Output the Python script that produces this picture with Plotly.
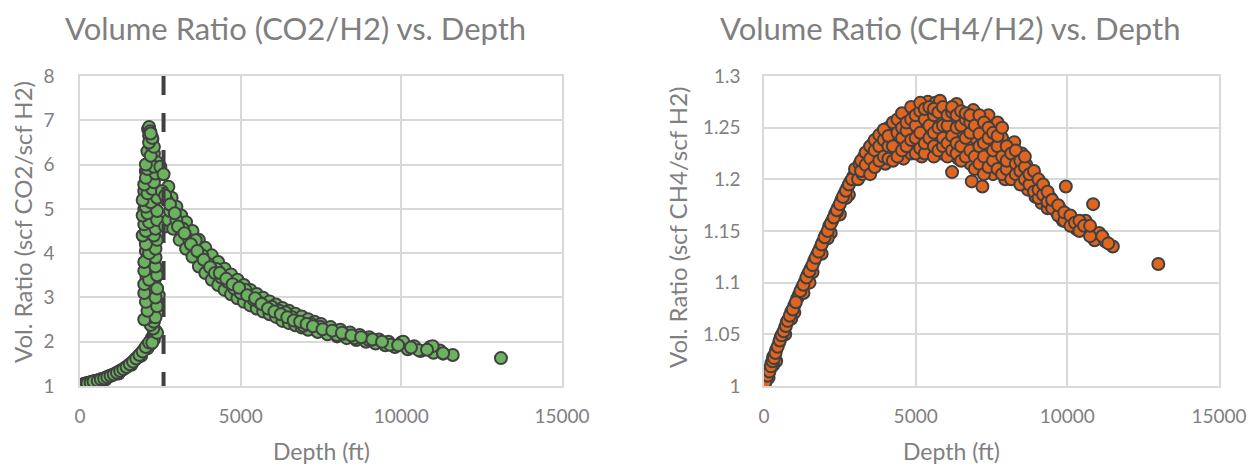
import plotly.graph_objects as go

# ---------------- data ----------------
co2_depth = [
    20, 60, 100, 150, 200, 250, 300, 350, 400, 450, 500, 600, 700, 800, 900, 1000,
    1100, 1200, 1300, 1400, 1500, 1600, 1700, 1800, 1900, 2000, 2100, 2200, 2250, 2300,
    500, 800, 1200, 1600, 1900, 2100, 2200,
    40, 80, 130, 180, 230, 330, 420, 550, 650, 750, 850, 950, 1050, 1150, 1250, 1350,
    1450, 1550, 1650, 1750, 1850, 1950, 2050, 2150, 2350, 2300, 2250, 2400,
    2280, 2200, 2300, 2150, 2250, 2330, 2180, 2260, 2450, 2100, 2200, 2320, 2070, 2250,
    2150, 2300, 2100, 2200, 2050, 2250, 2130, 2000, 2200, 2100, 2300, 2050, 2200, 2000,
    2150, 2300, 2050, 2250, 2000, 2150, 2350, 2100, 2250, 2050, 2200, 2150, 2250, 2100,
    2200, 2250, 2150, 2120, 2150, 2180, 2300, 2400,
    2000, 2350, 2100, 2400, 2050, 2350, 2000, 2400, 2000, 2150, 2400, 2000, 2350, 2000,
    2350, 2150, 2350, 2050, 2400, 1950, 2300, 2050, 2350, 2000, 2150, 2400, 1950, 2100,
    2400, 2050, 2200, 1950, 2400, 2100, 2250, 2000, 2300, 2050, 2350, 2100, 2300, 2050,
    2200, 2300, 2150, 2250, 2200,
    2500, 2600, 2750, 2850, 3000, 3150, 3300, 3500, 3700, 3900, 4100, 4300, 4500, 4700,
    4900, 5100, 5300, 5500, 5700, 5900, 6100, 6300, 6500, 6700, 6900, 7100, 7300, 7500,
    7800, 8100, 8400, 8700, 9000, 9300, 9600, 10000, 10400, 10900, 11200,
    2650, 2750, 2900, 3100, 3300, 3500, 3700, 3900, 4100, 4300, 4500, 4700, 4900, 5100,
    5300, 5500, 5700, 5900, 6100, 6300, 6500, 6700, 6900, 7100, 7400, 7700, 8000, 8300,
    8600, 8900, 9200, 9500, 9800, 10200, 10600, 11000, 11300, 11600,
    2700, 2800, 3000, 3200, 3400, 3600, 3800, 4000, 4250, 4400, 4600, 4800, 5000, 5150,
    5400, 5600, 5965, 6200, 6400, 6600, 6950, 7200, 7470, 7990, 8200, 8550, 9000, 9650,
    10060, 10540, 10975, 11300, 13100,
    2550, 2650, 2800, 2950, 3050, 3250, 3450, 3650, 3850, 4050, 4200, 4350, 4550, 4750,
    4950, 5200, 5450, 5650, 5850, 6050, 6250, 6450, 6650, 6850, 7050, 7250, 7550, 7850,
    8150, 8450, 8750, 9100, 9400, 9900, 10300, 10800,
]
co2_ratio = [
    1.02, 1.03, 1.04, 1.05, 1.06, 1.07, 1.08, 1.09, 1.10, 1.11, 1.12, 1.14, 1.16, 1.19, 1.22, 1.25,
    1.28, 1.32, 1.36, 1.41, 1.46, 1.52, 1.59, 1.66, 1.74, 1.83, 1.93, 2.03, 2.10, 2.18,
    1.09, 1.15, 1.28, 1.48, 1.68, 1.85, 1.95,
    1.02, 1.03, 1.04, 1.05, 1.06, 1.08, 1.10, 1.12, 1.15, 1.17, 1.20, 1.23, 1.26, 1.30, 1.34, 1.38,
    1.43, 1.49, 1.55, 1.62, 1.70, 1.78, 1.88, 1.98, 2.25, 2.05, 1.98, 2.20,
    2.30, 2.38, 2.45, 2.55, 2.65, 2.75, 2.85, 2.95, 3.05, 3.20, 3.30, 3.38, 3.45, 3.55,
    3.65, 3.75, 3.85, 3.95, 4.05, 4.15, 4.25, 4.35, 4.45, 4.55, 4.65, 4.75, 4.85, 5.00,
    5.10, 5.05, 5.25, 5.30, 5.40, 5.50, 5.45, 5.65, 5.75, 5.85, 5.95, 6.05, 6.15, 6.30,
    6.45, 6.55, 6.65, 6.80, 6.85, 6.75, 6.25, 6.05,
    2.50, 2.55, 2.70, 2.80, 2.90, 3.00, 3.10, 3.20, 3.30, 3.40, 3.50, 3.60, 3.70, 3.80,
    3.90, 4.00, 4.10, 4.20, 4.30, 4.40, 4.40, 4.50, 4.55, 4.65, 4.70, 4.75, 4.85, 4.90,
    4.95, 5.05, 5.15, 5.20, 5.25, 5.35, 5.45, 5.55, 5.60, 5.70, 5.80, 5.90, 5.95, 6.00,
    6.20, 6.40, 6.50, 6.60, 6.70,
    5.95, 5.78, 5.50, 5.25, 5.05, 4.85, 4.70, 4.50, 4.30, 4.12, 3.95, 3.80, 3.65, 3.52,
    3.40, 3.28, 3.17, 3.08, 2.99, 2.91, 2.84, 2.76, 2.70, 2.63, 2.57, 2.51, 2.45, 2.40,
    2.33, 2.27, 2.21, 2.15, 2.10, 2.05, 2.00, 1.98, 1.90, 1.88, 1.80,
    4.60, 4.75, 4.55, 4.30, 4.10, 3.92, 3.70, 3.55, 3.40, 3.28, 3.17, 3.07, 2.98, 2.90,
    2.82, 2.75, 2.68, 2.62, 2.56, 2.47, 2.42, 2.37, 2.32, 2.27, 2.22, 2.17, 2.12, 2.08,
    2.04, 2.00, 1.96, 1.92, 1.88, 1.83, 1.79, 1.75, 1.73, 1.70,
    5.20, 4.95, 4.75, 4.55, 4.30, 4.29, 3.95, 3.75, 3.64, 3.45, 3.35, 3.20, 3.10, 3.17,
    2.95, 2.88, 2.79, 2.70, 2.66, 2.55, 2.36, 2.40, 2.34, 2.15, 2.18, 2.08, 2.04, 1.93,
    2.00, 1.81, 1.90, 1.74, 1.63,
    5.40, 5.30, 5.10, 4.90, 4.60, 4.45, 4.20, 4.05, 3.85, 3.68, 3.55, 3.55, 3.42, 3.30,
    3.22, 3.05, 2.98, 2.85, 2.75, 2.68, 2.62, 2.55, 2.48, 2.45, 2.40, 2.35, 2.28, 2.25,
    2.20, 2.14, 2.10, 2.05, 2.00, 1.92, 1.87, 1.82,
]

ch4_depth = [
    30, 60, 100, 150, 200, 250, 300, 350, 400, 500, 550, 600, 700, 750, 800, 900, 1000,
    1100, 1150, 1250, 1350, 1450, 1550, 1650, 1750, 1850, 1950, 2050, 2150, 2250, 2350,
    2450, 2550, 2650, 2750, 2850, 2950,
    150, 400, 700, 1000, 1300, 1600, 1900, 2200, 2500, 2800, 300, 900, 1500, 2100, 2400, 2700,
    50, 120, 180, 230, 280, 330, 380, 450, 520, 580, 650, 720, 780, 850, 950, 1050,
    1200, 1300, 1400, 1500, 1600, 1700, 1800, 1900, 2000, 2100, 2200, 2300, 2400, 2500,
    2600, 2700, 2800, 2900,
    3000, 3100, 3150, 3250, 3300, 3400, 3450, 3550, 3600, 3700, 3750, 3850, 3900, 4000,
    4000, 4100, 4200, 4250, 4300, 4400, 4450, 4500, 4600, 4650, 4700, 4800, 4850, 4900,
    4950, 5050, 5050, 5150, 5200, 5250, 5300, 5400, 5450, 5500, 5550, 5650, 5700, 5800,
    5850, 5900, 6000, 6050, 6150, 6200, 6250, 6350, 6400, 6450, 6550, 6600, 6700, 6800,
    6850, 6900, 6950, 7050, 7100, 7200, 7250, 7300, 7400, 7450, 7550, 7600, 7700, 7750,
    7850, 7950, 8050, 8150, 8250, 8300, 8400, 8500, 8550, 8650, 8700, 8800, 8900, 8950,
    9050, 9150, 9250, 9350, 9450, 9550, 9650, 9750, 9850, 9950, 10000, 10150, 10300,
    10450, 10600, 10700, 10850, 10900, 11050, 11250, 11500, 13000,
    3200, 3200, 3350, 3350, 3500, 3500, 3500, 3650, 3650, 3650, 3800, 3800, 3800,
    3950, 3950, 3950, 4100, 4100, 4100, 4250, 4250, 4250, 4400, 4400, 4400,
    4550, 4550, 4550, 4550, 4700, 4700, 4700, 4850, 4850, 4850,
    5000, 5000, 5000, 5000, 5150, 5150, 5150, 5150, 5300, 5300, 5300, 5300,
    5450, 5450, 5450, 5600, 5600, 5600, 5600, 5600, 5750, 5750, 5750,
    5900, 5900, 5900, 5900, 6050, 6050, 6050, 6050, 6200, 6200, 6200, 6200,
    6350, 6350, 6350, 6350, 6500, 6500, 6500, 6500, 6650, 6650, 6650, 6650,
    6800, 6800, 6800, 6800, 6950, 6950, 6950, 7100, 7100, 7100, 7100,
    7250, 7250, 7250, 7250, 7400, 7400, 7400, 7550, 7550, 7550, 7700, 7700, 7700,
    7850, 7850, 7850, 8000, 8000, 8000, 8150, 8150, 8300, 8300, 8300,
    8450, 8450, 8450, 8600, 8600, 8600, 8750, 8750, 8900, 8900,
    9050, 9050, 9050, 9200, 9200, 9350, 9350, 9500, 9500, 9700, 9700,
    9900, 9900, 10100, 10100, 10250, 10400, 10400, 10550, 10750, 10750, 11150, 11350,
]
ch4_ratio = [
    1.003, 1.006, 1.009, 1.012, 1.017, 1.022, 1.028, 1.030, 1.035, 1.042, 1.047, 1.050, 1.057, 1.062, 1.064, 1.072, 1.078,
    1.085, 1.088, 1.095, 1.101, 1.108, 1.114, 1.121, 1.127, 1.133, 1.140, 1.147, 1.155, 1.160, 1.167,
    1.173, 1.180, 1.186, 1.192, 1.198, 1.203,
    1.008, 1.024, 1.050, 1.071, 1.090, 1.110, 1.128, 1.148, 1.166, 1.185, 1.020, 1.065, 1.100, 1.143, 1.168, 1.182,
    1.004, 1.010, 1.014, 1.019, 1.024, 1.027, 1.032, 1.038, 1.044, 1.049, 1.053, 1.058, 1.063, 1.068, 1.074, 1.081,
    1.092, 1.098, 1.105, 1.111, 1.117, 1.124, 1.130, 1.137, 1.144, 1.150, 1.157, 1.163, 1.170, 1.176,
    1.183, 1.189, 1.195, 1.200,
    1.210, 1.200, 1.215, 1.205, 1.222, 1.210, 1.228, 1.215, 1.235, 1.222, 1.240, 1.228, 1.245, 1.215,
    1.235, 1.250, 1.225, 1.243, 1.254, 1.232, 1.248, 1.259, 1.220, 1.240, 1.262, 1.252, 1.225, 1.266,
    1.243, 1.268, 1.232, 1.257, 1.222, 1.272, 1.245, 1.275, 1.230, 1.262, 1.250, 1.274, 1.238, 1.276,
    1.225, 1.258, 1.245, 1.268, 1.232, 1.207, 1.255, 1.273, 1.220, 1.244, 1.260, 1.230, 1.250, 1.215,
    1.198, 1.267, 1.240, 1.225, 1.258, 1.193, 1.245, 1.210, 1.262, 1.230, 1.205, 1.250, 1.255, 1.220,
    1.240, 1.200, 1.230, 1.212, 1.236, 1.222, 1.198, 1.225, 1.210, 1.214, 1.190, 1.205, 1.196, 1.183,
    1.195, 1.177, 1.188, 1.172, 1.182, 1.177, 1.168, 1.172, 1.160, 1.193, 1.162, 1.158, 1.152,
    1.156, 1.160, 1.150, 1.176, 1.141, 1.148, 1.140, 1.135, 1.118,
    1.208, 1.218, 1.214, 1.226, 1.205, 1.220, 1.232, 1.212, 1.228, 1.238, 1.218, 1.232, 1.243,
    1.222, 1.238, 1.248, 1.220, 1.232, 1.242, 1.218, 1.232, 1.255, 1.222, 1.245, 1.258,
    1.228, 1.240, 1.250, 1.264, 1.232, 1.247, 1.255, 1.238, 1.258, 1.270,
    1.225, 1.240, 1.252, 1.262, 1.230, 1.245, 1.266, 1.274, 1.225, 1.235, 1.258, 1.268,
    1.240, 1.252, 1.270, 1.222, 1.232, 1.245, 1.262, 1.268, 1.228, 1.250, 1.265,
    1.232, 1.240, 1.252, 1.270, 1.222, 1.235, 1.252, 1.262, 1.228, 1.242, 1.265, 1.270,
    1.225, 1.235, 1.250, 1.262, 1.218, 1.232, 1.252, 1.266, 1.222, 1.240, 1.258, 1.264,
    1.228, 1.245, 1.255, 1.262, 1.210, 1.222, 1.252, 1.215, 1.232, 1.244, 1.262,
    1.205, 1.222, 1.235, 1.255, 1.212, 1.240, 1.250, 1.218, 1.228, 1.245, 1.210, 1.232, 1.242,
    1.205, 1.222, 1.250, 1.210, 1.218, 1.232, 1.200, 1.225, 1.205, 1.215, 1.228,
    1.195, 1.208, 1.218, 1.200, 1.212, 1.222, 1.195, 1.205, 1.188, 1.208,
    1.182, 1.190, 1.200, 1.185, 1.195, 1.178, 1.188, 1.172, 1.180, 1.165, 1.175,
    1.160, 1.168, 1.155, 1.165, 1.158, 1.150, 1.160, 1.155, 1.145, 1.155, 1.145, 1.138,
]

threshold_depth = 2600

x_tickvals = [0, 5000, 10000, 15000]
x_ticktext = ["0", "5000", "10000", "15000"]
co2_tickvals = [1, 2, 3, 4, 5, 6, 7, 8]
co2_ticktext = ["1", "2", "3", "4", "5", "6", "7", "8"]
ch4_tickvals = [1.0, 1.05, 1.1, 1.15, 1.2, 1.25, 1.3]
ch4_ticktext = ["1", "1.05", "1.1", "1.15", "1.2", "1.25", "1.3"]

title_left = "Volume Ratio (CO2/H2) vs. Depth"
title_right = "Volume Ratio (CH4/H2) vs. Depth"
xlabel = "Depth (ft)"
ylabel_left = "Vol. Ratio (scf CO2/scf H2)"
ylabel_right = "Vol. Ratio (scf CH4/scf H2)"

# ---------------- style ----------------
# the page body has an 8px margin, so the figure is drawn 8px smaller on each side
OFF = 8
W, H = 1260 - 2 * OFF, 474 - 2 * OFF
FONT = "Lato"
GRAY = "#7F7F7F"
GRID = "#D9D9D9"
EDGE = "#404040"

fig = go.Figure()
fig.add_trace(go.Scatter(
    x=co2_depth, y=co2_ratio, mode="markers", xaxis="x", yaxis="y",
    marker=dict(size=12, color="#6BB35F", line=dict(color=EDGE, width=2)),
    showlegend=False, hoverinfo="x+y"))
fig.add_trace(go.Scatter(
    x=ch4_depth, y=ch4_ratio, mode="markers", xaxis="x2", yaxis="y2",
    marker=dict(size=12, color="#E2651F", line=dict(color=EDGE, width=2)),
    showlegend=False, hoverinfo="x+y"))

def px_x(p):
    return (p - OFF) / W

def px_y(p):
    return 1 - (p - OFF) / H

common_axis = dict(
    showgrid=True, gridcolor=GRID, gridwidth=1.5,
    showline=True, linecolor=GRID, linewidth=1.5, mirror=True,
    zeroline=False, ticks="outside", tickcolor="rgba(0,0,0,0)", automargin=False,
    tickfont=dict(family=FONT, size=19, color=GRAY), tickmode="array",
)

fig.update_layout(
    template="none",
    width=W, height=H,
    margin=dict(l=0, r=0, t=0, b=0, pad=0),
    paper_bgcolor="white", plot_bgcolor="white",
    xaxis=dict(domain=[px_x(80), px_x(562)], range=[0, 15000], anchor="y",
               tickvals=x_tickvals, ticktext=x_ticktext, ticklen=12, **common_axis),
    yaxis=dict(domain=[px_y(386), px_y(76)], range=[1, 8], anchor="x",
               tickvals=co2_tickvals, ticktext=co2_ticktext, ticklen=20, **common_axis),
    xaxis2=dict(domain=[px_x(764), px_x(1219)], range=[0, 15000], anchor="y2",
                tickvals=x_tickvals, ticktext=x_ticktext, ticklen=12, **common_axis),
    yaxis2=dict(domain=[px_y(386), px_y(76)], range=[1, 1.3], anchor="x2",
                tickvals=ch4_tickvals, ticktext=ch4_ticktext, ticklen=18, **common_axis),
    shapes=[dict(type="line", xref="x", yref="y domain", x0=threshold_depth, x1=threshold_depth,
                 y0=1, y1=0, layer="above", line=dict(color=EDGE, width=4, dash="19px,18px"))],
)

def label(text, x, y, size, angle=0):
    return dict(text=text, x=px_x(x), y=px_y(y), xref="paper", yref="paper",
                xanchor="center", yanchor="middle", showarrow=False, textangle=angle,
                font=dict(family=FONT, size=size, color=GRAY))

ann = [
    label(title_left, 295, 28, 31),
    label(title_right, 950, 28, 31),
    label(xlabel, 321, 451, 23),
    label(xlabel, 951, 451, 23),
    label(ylabel_left, 22, 222, 24, -90),
    label(ylabel_right, 677, 228, 24, -90),
]
fig.update_layout(annotations=ann)

fig.write_html("out.html")
